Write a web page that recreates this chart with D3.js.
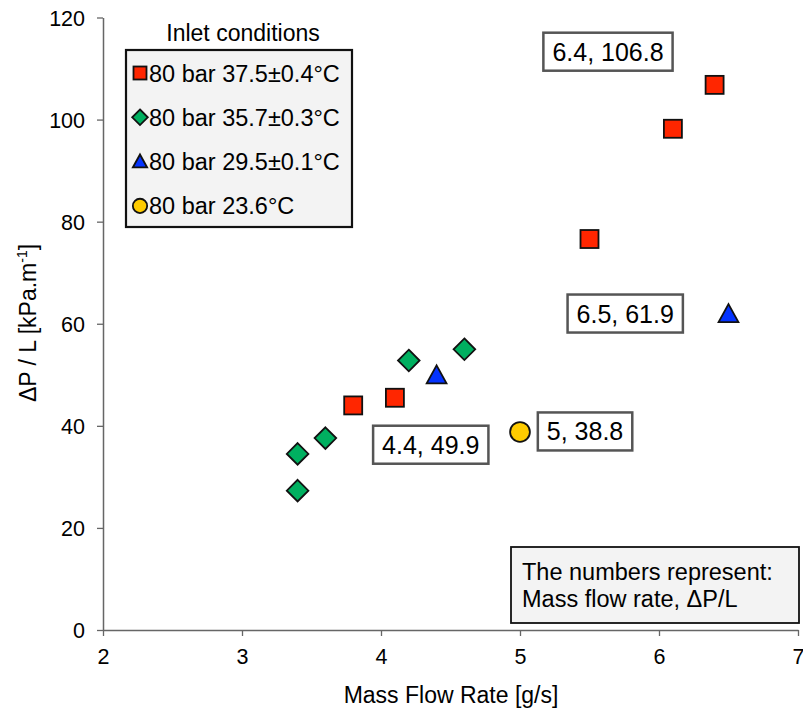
<!DOCTYPE html>
<html><head><meta charset="utf-8">
<script src="https://cdn.jsdelivr.net/npm/d3@7/dist/d3.min.js"></script>
<style>body{margin:0;background:#fff;} svg{display:block;font-family:"Liberation Sans",Arial,Helvetica,sans-serif;}</style>
</head><body><svg id="c" width="803" height="715"></svg>
<script>
// ---- data ----
const xTicks = [2, 3, 4, 5, 6, 7];
const yTicks = [0, 20, 40, 60, 80, 100, 120];
const seriesNames = ["80 bar 37.5±0.4°C", "80 bar 35.7±0.3°C", "80 bar 29.5±0.1°C", "80 bar 23.6°C"];
const seriesShapes = ["square", "diamond", "triangle", "circle"];
const seriesColors = ["#FF2600", "#00B060", "#0433FF", "#FFCC00"];
const s1x = [3.8, 4.1, 5.5, 6.1, 6.4];
const s1y = [44.0, 45.5, 76.6, 98.2, 106.8];
const s2x = [3.4, 3.4, 3.6, 4.2, 4.6];
const s2y = [27.3, 34.5, 37.6, 52.8, 55.0];
const s3x = [4.4, 6.5];
const s3y = [49.9, 61.9];
const s4x = [5.0];
const s4y = [38.8];
const annText = ["6.4, 106.8", "6.5, 61.9", "4.4, 49.9", "5, 38.8"];
const annX = [5.633, 5.757, 4.358, 5.468];
const annY = [113.3, 62.0, 36.3, 38.9];
const noteLines = ["The numbers represent:", "Mass flow rate, ΔP/L"];

// ---- layout ----
const svg = d3.select("#c");
const x = d3.scaleLinear().domain([2, 7]).range([103, 798]);
const y = d3.scaleLinear().domain([0, 120]).range([630, 17.5]);
const axisColor = "#666";

const xAxis = svg.append("g").attr("transform", `translate(0,${y(0)})`)
  .call(d3.axisBottom(x).tickValues(xTicks).tickFormat(d3.format("d")).tickSize(6).tickSizeOuter(0));
const yAxis = svg.append("g").attr("transform", `translate(${x(2)},0)`)
  .call(d3.axisLeft(y).tickValues(yTicks).tickFormat(d3.format("d")).tickSize(6).tickSizeOuter(0));
[xAxis, yAxis].forEach(a => {
  a.select(".domain").attr("stroke", axisColor).attr("stroke-width", 1.5);
  a.selectAll(".tick line").attr("stroke", axisColor).attr("stroke-width", 1.3);
  a.selectAll(".tick text").attr("fill", "#000").attr("font-size", 21.5).attr("font-family", "Liberation Sans, Arial, sans-serif");
});
xAxis.selectAll(".tick text").attr("dy", "1.15em");
yAxis.selectAll(".tick text").attr("x", -18).attr("dy", "0.36em");

// axis titles
svg.append("text").attr("x", 451).attr("y", 703).attr("text-anchor", "middle")
  .attr("font-size", 23).text("Mass Flow Rate [g/s]");
const yt = svg.append("text").attr("transform", "translate(36,323) rotate(-90)")
  .attr("text-anchor", "middle").attr("font-size", 23);
yt.append("tspan").text("ΔP / L [kPa.m");
yt.append("tspan").attr("font-size", 14).attr("dy", -9).text("-1");
yt.append("tspan").attr("dy", 9).text("]");

// symbol drawer
function drawShape(g, shape, cx, cy, size, fill) {
  const sw = 1.8;
  if (shape === "square") {
    g.append("rect").attr("x", cx - size / 2).attr("y", cy - size / 2).attr("width", size).attr("height", size)
      .attr("fill", fill).attr("stroke", "#111").attr("stroke-width", sw);
  } else if (shape === "diamond") {
    const r = size * 0.6;
    g.append("path").attr("d", `M${cx},${cy - r}L${cx + r},${cy}L${cx},${cy + r}L${cx - r},${cy}Z`)
      .attr("fill", fill).attr("stroke", "#111").attr("stroke-width", sw);
  } else if (shape === "triangle") {
    const h = size * 1.0, w = size * 1.1;
    g.append("path").attr("d", `M${cx},${cy - h * 0.55}L${cx + w / 2},${cy + h * 0.45}L${cx - w / 2},${cy + h * 0.45}Z`)
      .attr("fill", fill).attr("stroke", "#111").attr("stroke-width", sw);
  } else {
    g.append("circle").attr("cx", cx).attr("cy", cy).attr("r", size * 0.55)
      .attr("fill", fill).attr("stroke", "#111").attr("stroke-width", sw);
  }
}

// points
const seriesX = [s1x, s2x, s3x, s4x];
const seriesY = [s1y, s2y, s3y, s4y];
const pts = svg.append("g");
seriesX.forEach((xs, i) => {
  xs.forEach((v, j) => drawShape(pts, seriesShapes[i], x(v), y(seriesY[i][j]), 18, seriesColors[i]));
});

// annotation boxes
annText.forEach((t, i) => {
  const g = svg.append("g");
  const tx = g.append("text").attr("x", x(annX[i])).attr("y", y(annY[i])).attr("dy", "0.36em")
    .attr("text-anchor", "middle").attr("font-size", 25).text(t);
  const bb = tx.node().getBBox();
  g.insert("rect", "text").attr("x", bb.x - 9).attr("y", y(annY[i]) - 19).attr("width", bb.width + 18).attr("height", 38)
    .attr("fill", "#fff").attr("stroke", "#555").attr("stroke-width", 2.5);
});

// legend
svg.append("text").attr("x", 243).attr("y", 41).attr("text-anchor", "middle").attr("font-size", 23).text("Inlet conditions");
svg.append("rect").attr("x", 126).attr("y", 50).attr("width", 226).attr("height", 177)
  .attr("fill", "#f3f3f3").attr("stroke", "#111").attr("stroke-width", 2.2);
seriesNames.forEach((n, i) => {
  const cy = 73 + i * 44.3;
  const g = svg.append("g");
  drawShape(g, seriesShapes[i], 140, cy, 13, seriesColors[i]);
  g.append("text").attr("x", 149).attr("y", cy + 8.5).attr("font-size", 23.5).text(n);
});

// note box
svg.append("rect").attr("x", 511).attr("y", 547).attr("width", 288).attr("height", 76)
  .attr("fill", "#f3f3f3").attr("stroke", "#111").attr("stroke-width", 1.8);
noteLines.forEach((l, i) => {
  svg.append("text").attr("x", 522).attr("y", 580 + i * 27).attr("font-size", 23.5).text(l);
});
</script></body></html>
